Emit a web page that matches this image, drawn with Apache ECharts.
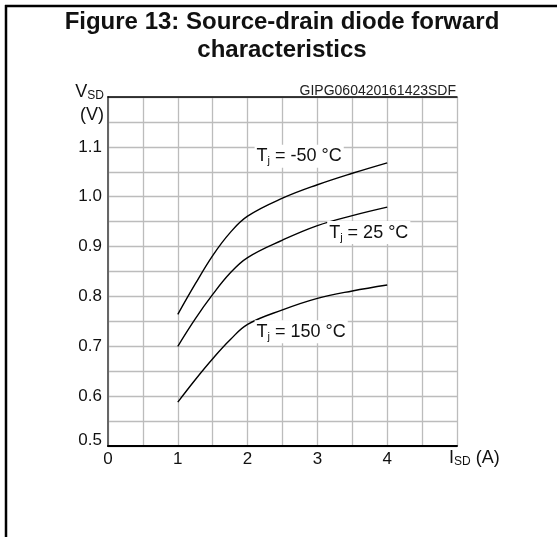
<!DOCTYPE html>
<html>
<head>
<meta charset="utf-8">
<script src="https://cdn.jsdelivr.net/npm/echarts@6/dist/echarts.min.js"></script>
<style>
  html, body { margin: 0; padding: 0; background: #fff; }
  #graph13 { width: 557px; height: 537px; }
</style>
</head>
<body>
<div id="graph13"></div>
<script>
(function(){
"use strict";
    // values
    var currents = [1, 1.25, 1.5, 1.75, 2, 2.5, 3, 3.5, 4];
    var vsdMinus50 = [0.764, 0.825, 0.882, 0.928, 0.961, 0.997, 1.024, 1.047, 1.068];
    var vsd25 = [0.700, 0.755, 0.804, 0.847, 0.878, 0.913, 0.942, 0.962, 0.979];
    var vsd150 = [0.588, 0.633, 0.675, 0.713, 0.744, 0.773, 0.796, 0.811, 0.823];
    var xTickLabels = ['0', '1', '2', '3', '4'];
    var yTickLabels = ['0.5', '0.6', '0.7', '0.8', '0.9', '1.0', '1.1'];

    var font = 'Liberation Sans, Arial, sans-serif';
    var myChart = echarts.init(document.getElementById('graph13'));

    function pickLabel(list, v) {
      for (var i = 0; i < list.length; i++) {
        if (Math.abs(parseFloat(list[i]) - v) < 1e-6) return list[i];
      }
      return '';
    }
    function pairs(ys) {
      return currents.map(function(c, i){ return [c, ys[i]]; });
    }
    function curve(name, ys, at) {
      return {
        name: name,
        type: 'line',
        data: pairs(ys),
        smooth: 0.4,
        symbol: 'none',
        lineStyle: { color: '#000', width: 1.4 },
        markPoint: {
          symbol: 'circle',
          symbolSize: 0,
          silent: true,
          data: [{ coord: at }],
          label: {
            show: true,
            position: 'right',
            distance: 0,
            formatter: '{t|T}{s|j}{t| = ' + name + ' °C}',
            backgroundColor: '#fff',
            padding: [1, 2, 1, 2],
            rich: {
              t: { fontFamily: font, fontSize: 18, color: '#111' },
              s: { fontFamily: font, fontSize: 11, color: '#111', padding: [10, 0, 0, 0] }
            }
          }
        }
      };
    }

    var option = {
        animation: false,
        backgroundColor: '#fff',
        grid: { left: 108, top: 97, right: 100, bottom: 91 },
        xAxis: [{
            type: 'value',
            min: 0, max: 5, interval: 0.5,
            axisLine: { lineStyle: { color: '#000', width: 2 } },
            axisTick: { show: false },
            splitLine: { lineStyle: { color: '#bcbcbc', width: 1.3 } },
            axisLabel: {
              margin: 5,
              fontFamily: font, fontSize: 17, color: '#111',
              formatter: function(v){ return pickLabel(xTickLabels, v); }
            }
        }, {
            type: 'value', position: 'top',
            min: 0, max: 5,
            axisLine: { show: true, lineStyle: { color: '#000', width: 1.5 } },
            axisTick: { show: false }, axisLabel: { show: false }, splitLine: { show: false }
        }],
        yAxis: {
            type: 'value',
            min: 0.5, max: 1.2, interval: 0.05,
            axisLine: { show: true, lineStyle: { color: '#666', width: 2 } },
            axisTick: { show: false },
            splitLine: { lineStyle: { color: '#bcbcbc', width: 1.3 } },
            axisLabel: {
              margin: 6,
              fontFamily: font, fontSize: 17, color: '#111',
              formatter: function(v){
                var s = pickLabel(yTickLabels, v);
                return s === '0.5' ? '{low|' + s + '}' : s;
              },
              rich: { low: { fontFamily: font, fontSize: 17, color: '#111', padding: [0, 0, 11, 0] } }
            }
        },
        series: [
          curve('-50', vsdMinus50, [2.10, 1.081]),
          curve('25', vsd25, [3.14, 0.928]),
          curve('150', vsd150, [2.10, 0.729])
        ],
        graphic: [
          { type: 'line', shape: { x1: 5, y1: 6, x2: 557, y2: 6 }, style: { stroke: '#000', lineWidth: 2.5 } },
          { type: 'line', shape: { x1: 6, y1: 5, x2: 6, y2: 537 }, style: { stroke: '#000', lineWidth: 2.5 } },
          { type: 'text', x: 282, y: 22, style: { text: 'Figure 13: Source-drain diode forward', fontFamily: font, fontWeight: 'bold', fontSize: 24, fill: '#111', textAlign: 'center', textVerticalAlign: 'middle' } },
          { type: 'text', x: 282, y: 50, style: { text: 'characteristics', fontFamily: font, fontWeight: 'bold', fontSize: 24, fill: '#111', textAlign: 'center', textVerticalAlign: 'middle' } },
          { type: 'text', x: 456, y: 91, style: { text: 'GIPG060420161423SDF', fontFamily: font, fontSize: 14, fill: '#222', textAlign: 'right', textVerticalAlign: 'middle' } },
          { type: 'text', x: 104, y: 92, style: {
              text: '{v|V}{s|SD}', textAlign: 'right', textVerticalAlign: 'middle',
              rich: { v: { fontFamily: font, fontSize: 18, fill: '#111' }, s: { fontFamily: font, fontSize: 12, fill: '#111', padding: [8, 0, 0, 0] } } } },
          { type: 'text', x: 104, y: 115, style: { text: '(V)', fontFamily: font, fontSize: 18, fill: '#111', textAlign: 'right', textVerticalAlign: 'middle' } },
          { type: 'text', x: 449, y: 458, style: {
              text: '{v|I}{s|SD}{v| (A)}', textAlign: 'left', textVerticalAlign: 'middle',
              rich: { v: { fontFamily: font, fontSize: 18, fill: '#111' }, s: { fontFamily: font, fontSize: 12, fill: '#111', padding: [8, 0, 0, 0] } } } }
        ]
    };
    myChart.setOption(option);
})();
</script>
</body>
</html>
